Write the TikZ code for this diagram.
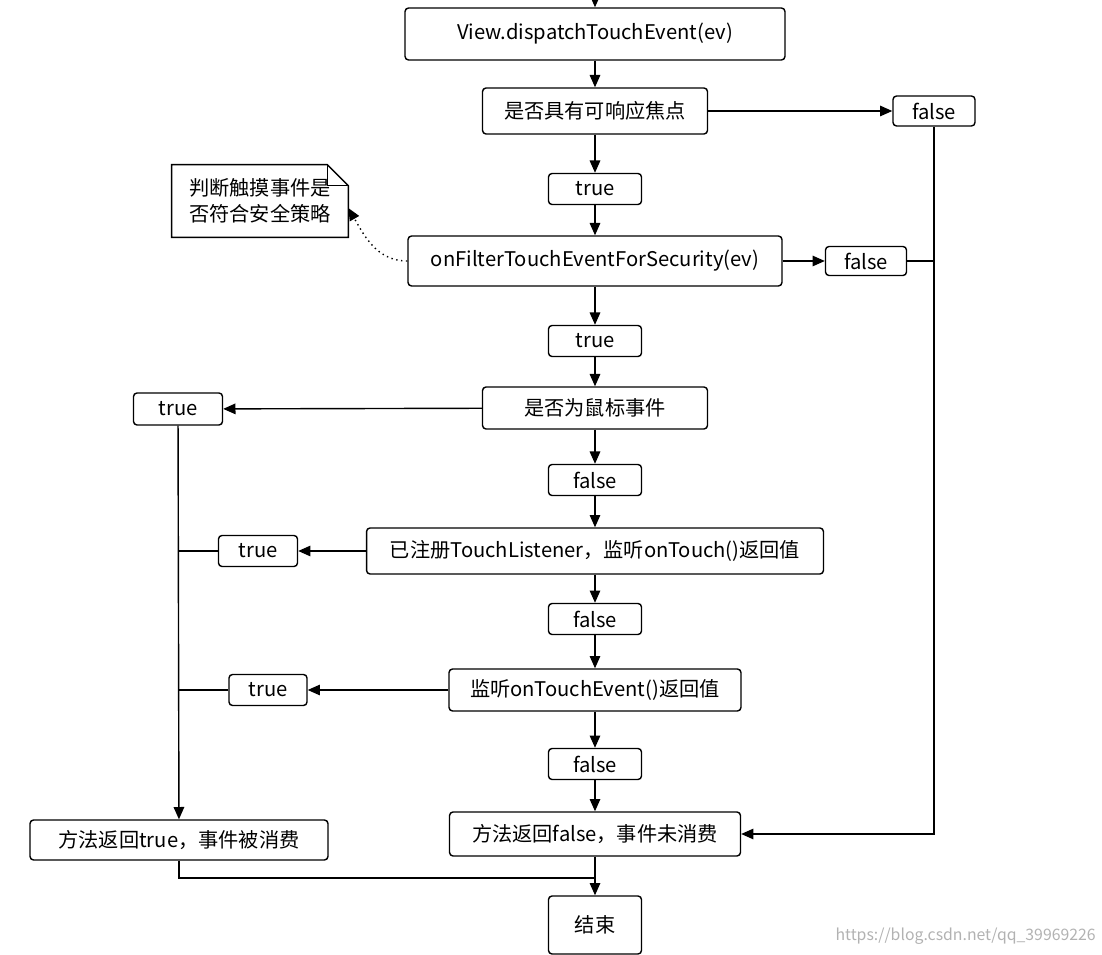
\documentclass[tikz,border=0pt]{standalone}
\usepackage{fontspec}
\setmainfont{Noto Sans CJK SC}
\usetikzlibrary{arrows.meta,shapes.misc,positioning}
\tikzset{
    box/.style={draw, thick, rounded corners=2pt, fill=white, inner sep=0pt, align=center},
    flow/.style={-{Triangle[length=7pt,width=6pt]}, thick},
    line/.style={thick}
}
\begin{document}
\begin{tikzpicture}[x=0.02cm, y=-0.02cm, font=\fontsize{11.5}{15}\selectfont]
\useasboundingbox (0,0) rectangle (1102,955);
\coordinate (top) at (595,0);
\node[box, minimum width=7.6cm, minimum height=1.04cm] (view) at (595,34) {View.dispatchTouchEvent(ev)};
\node[box, minimum width=4.5cm, minimum height=0.92cm] (focus) at (595,111) {是否具有可响应焦点};
\node[box, minimum width=1.64cm, minimum height=0.6cm] (f1) at (934,111) {false};
\node[box, minimum width=1.86cm, minimum height=0.62cm] (t1) at (595,189) {true};
\node[box, minimum width=7.48cm, minimum height=1cm] (filter) at (595,261) {onFilterTouchEventForSecurity(ev)};
\node[box, minimum width=1.62cm, minimum height=0.58cm] (f2) at (866,261) {false};
\node[box, minimum width=1.86cm, minimum height=0.62cm] (t2) at (595,341) {true};
\node[box, minimum width=4.5cm, minimum height=0.84cm] (mouse) at (595,408) {是否为鼠标事件};
\node[box, minimum width=1.78cm, minimum height=0.64cm] (t3) at (178,409) {true};
\node[box, minimum width=1.86cm, minimum height=0.62cm] (f3) at (595,480) {false};
\node[box, minimum width=9.14cm, minimum height=0.92cm] (reg) at (595,551) {已注册TouchListener，监听onTouch()返回值};
\node[box, minimum width=1.58cm, minimum height=0.62cm] (t4) at (258,551) {true};
\node[box, minimum width=1.86cm, minimum height=0.62cm] (f4) at (595,619) {false};
\node[box, minimum width=5.84cm, minimum height=0.84cm] (onte) at (595,690) {监听onTouchEvent()返回值};
\node[box, minimum width=1.56cm, minimum height=0.62cm] (t5) at (268,690) {true};
\node[box, minimum width=1.86cm, minimum height=0.62cm] (f5) at (595,764) {false};
\node[box, minimum width=5.82cm, minimum height=0.88cm] (retf) at (595,834) {方法返回false，事件未消费};
\node[box, minimum width=5.96cm, minimum height=0.8cm] (rett) at (179,840) {方法返回true，事件被消费};
\node[box, minimum width=1.86cm, minimum height=1.16cm] (end) at (595,925) {结束};
% note with folded corner
\node[minimum width=3.52cm, minimum height=1.44cm, align=left] (note) at (260,201) {判断触摸事件是\\否符合安全策略};
\draw[thick] (note.south west) -- (note.north west) -- ([xshift=-12pt]note.north east)
    -- ([yshift=-12pt]note.north east) -- (note.south east) -- cycle;
\draw[thin] ([xshift=-12pt]note.north east) -- ++(0,-12pt) -- ([yshift=-12pt]note.north east);
\coordinate (join1) at (934,261);
\coordinate (join2) at (934,834);
\coordinate (left4) at (178,551);
\coordinate (left5) at (178,690);
\coordinate (bot1) at (179,878);
\coordinate (bot2) at (595,878);
% main flow
\draw[flow] (top) -- (view);
\draw[flow] (view) -- (focus);
\draw[flow] (focus) -- (t1);
\draw[flow] (t1) -- (filter);
\draw[flow] (filter) -- (t2);
\draw[flow] (t2) -- (mouse);
\draw[flow] (mouse) -- (f3);
\draw[flow] (f3) -- (reg);
\draw[flow] (reg) -- (f4);
\draw[flow] (f4) -- (onte);
\draw[flow] (onte) -- (f5);
\draw[flow] (f5) -- (retf);
\draw[flow] (retf) -- (end);
% branches
\draw[flow] (focus) -- (f1);
\draw[flow] (filter) -- (f2);
\draw[line] (f2) -- (join1);
\draw[flow] (f1) |- (join2) -- (retf);
\draw[flow] (mouse) -- (t3);
\draw[flow] (t3) -- (rett);
\draw[flow] (reg) -- (t4);
\draw[line] (t4) -- (left4);
\draw[flow] (onte) -- (t5);
\draw[line] (t5) -- (left5);
\draw[line] (rett) -- (bot1) -- (bot2);
\draw[thick, dotted, -{Triangle[length=7pt,width=6pt]}] (filter.west) to[out=180, in=-60] ([yshift=-4pt]note.east);
\node[text=gray!60, anchor=east, inner sep=0pt, font=\fontsize{9}{11}\selectfont] (mark) at (1096,936) {https://blog.csdn.net/qq\_39969226};
\end{tikzpicture}
\end{document}
